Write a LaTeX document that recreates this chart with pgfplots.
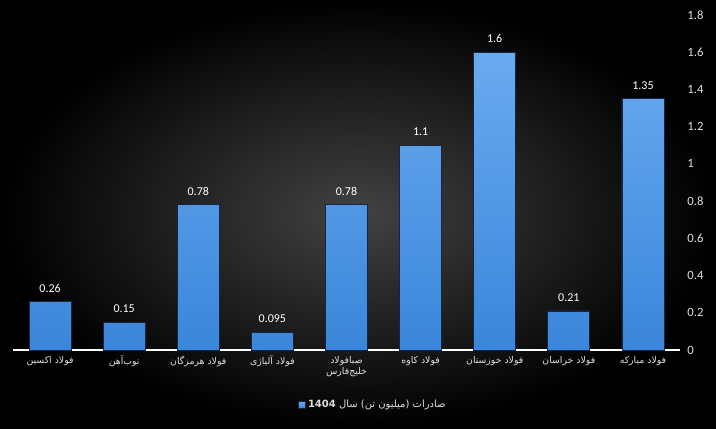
\documentclass[border=0pt]{standalone}
\usepackage{pgfplots}
\pgfplotsset{compat=1.18}
\usepackage{fontspec}
\setmainfont{Carlito}
\newfontfamily\arabicfont[Script=Arabic]{DejaVu Sans}
\TeXXeTstate=1
\definecolor{bgc}{RGB}{66,66,66}
\definecolor{bartop}{RGB}{106,170,240}
\definecolor{barbot}{RGB}{58,134,218}
\definecolor{barline}{RGB}{22,38,66}
\definecolor{lab}{RGB}{222,222,222}
\begin{document}
\begin{tikzpicture}[x=1pt,y=1pt]
\shade[inner color=bgc, outer color=black] (0,0) rectangle (537,321);
\begin{axis}[
  at={(9.75pt,58.5pt)}, anchor=south west,
  scale only axis, width=500.25pt, height=251.25pt,
  xmin=-0.5, xmax=8.5, ymin=0, ymax=1.8,
  axis x line=bottom, axis y line=right,
  x axis line style={draw=white, line width=1.1pt, -},
  y axis line style={draw=none},
  major tick length=0pt,
  ytick={0,0.2,0.4,0.6,0.8,1,1.2,1.4,1.6,1.8},
  /pgf/number format/assume math mode=true,
  yticklabel style={font=\fontsize{9.5}{11}\selectfont, color=lab, anchor=west, xshift=2pt},
  xtick=data,
  xticklabels={{\arabicfont\beginR فولاد اکسین\endR},{\arabicfont\beginR نوب‌آهن\endR},{\arabicfont\beginR فولاد هرمزگان\endR},{\arabicfont\beginR فولاد آلیاژی\endR},{\arabicfont\beginR صبافولاد\endR\\\arabicfont\beginR خلیج‌فارس\endR},{\arabicfont\beginR فولاد کاوه\endR},{\arabicfont\beginR فولاد خوزستان\endR},{\arabicfont\beginR فولاد خراسان\endR},{\arabicfont\beginR فولاد مبارکه\endR}},
  xticklabel style={font=\fontsize{7}{8.5}\selectfont, color=lab, align=center, yshift=-1pt},
  legend style={at={(0.54,-0.164)}, anchor=center, draw=none, fill=none, text=lab, font=\fontsize{7.5}{9}\selectfont},
  legend image code/.code={\fill[bartop, draw=barline, line width=0.3pt] (0pt,-2.6pt) rectangle (5.2pt,2.6pt);},
]
\addplot[ybar, bar width=31.5pt, draw=barline, line width=0.6pt, top color=bartop, bottom color=barbot,
  point meta=explicit symbolic,
  nodes near coords={\pgfplotspointmeta},
  nodes near coords style={font=\fontsize{9}{11}\selectfont, color=white, anchor=south, yshift=3.5pt}]
 coordinates {(0,0.26)[0.26] (1,0.15)[0.15] (2,0.78)[0.78] (3,0.095)[0.095] (4,0.78)[0.78] (5,1.1)[1.1] (6,1.6)[1.6] (7,0.21)[0.21] (8,1.35)[1.35]};
\addlegendentry{\arabicfont\beginR صادرات (میلیون تن) سال \beginL\textbf{1404}\endL\endR}
\end{axis}
\end{tikzpicture}
\end{document}
